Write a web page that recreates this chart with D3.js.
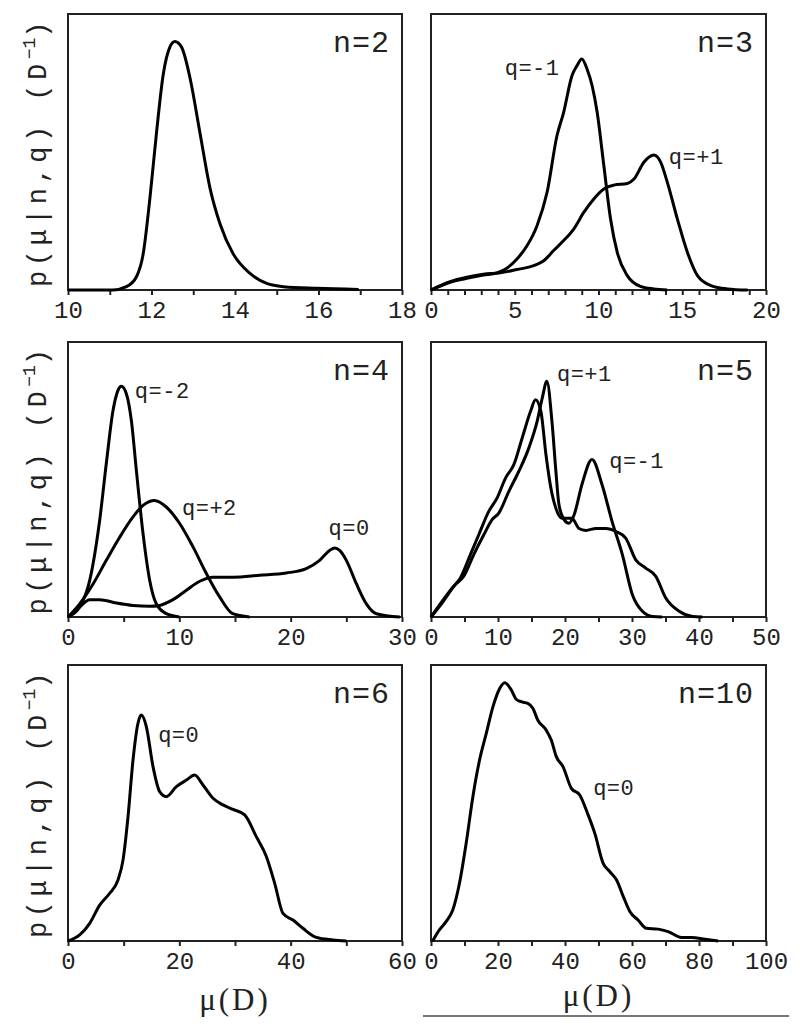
<!DOCTYPE html>
<html><head><meta charset="utf-8">
<script src="https://cdn.jsdelivr.net/npm/d3@7"></script>
<style>
html,body{margin:0;padding:0;background:#fff;}
text{font-family:"Liberation Mono","DejaVu Sans Mono",monospace;fill:#222;}
</style></head>
<body><svg id="chart" width="800" height="1032"></svg>
<script>
// ---------- data (mu in Debye, relative density) ----------
const n2_q = [[10,0],[11.08,0],[11.4,0.012],[11.64,0.048],[11.8,0.13],[11.96,0.33],[12.12,0.57],[12.28,0.78],[12.44,0.88],[12.56,0.9],[12.72,0.88],[12.92,0.77],[13.16,0.57],[13.4,0.37],[13.64,0.24],[13.96,0.13],[14.36,0.06],[14.76,0.024],[15.16,0.012],[15.96,0.006],[16.96,0.002]];

const n3_qm1 = [[0,0],[1.14,0.028],[2.14,0.042],[3.13,0.054],[3.93,0.062],[4.53,0.079],[5.13,0.112],[5.73,0.16],[6.33,0.233],[6.93,0.354],[7.52,0.559],[7.92,0.644],[8.42,0.777],[8.72,0.813],[9.0,0.837],[9.32,0.8],[9.62,0.74],[9.92,0.644],[10.32,0.45],[10.72,0.257],[11.12,0.136],[11.72,0.052],[12.5,0.013],[13.3,0.004],[14.1,0]];
const n3_qp1 = [[0,0],[1.14,0.03],[2.14,0.046],[3.13,0.057],[4.13,0.062],[5.13,0.074],[6.13,0.088],[6.73,0.106],[7.32,0.143],[7.92,0.179],[8.52,0.221],[9.12,0.281],[9.72,0.33],[10.32,0.366],[10.92,0.38],[11.72,0.386],[12.12,0.402],[12.71,0.463],[13.31,0.489],[13.71,0.463],[14.11,0.39],[14.71,0.257],[15.31,0.136],[15.91,0.052],[16.71,0.016],[17.7,0.004],[18.9,0]];

const n4_qm2 = [[0,0],[1.05,0.036],[1.95,0.133],[2.84,0.35],[3.44,0.558],[4.04,0.75],[4.49,0.824],[4.79,0.839],[5.24,0.812],[5.69,0.715],[6.14,0.533],[6.74,0.303],[7.34,0.133],[7.93,0.048],[8.83,0.012],[10,0]];
const n4_qp2 = [[0,0],[1.05,0.048],[2.25,0.12],[3.44,0.206],[4.64,0.29],[5.84,0.364],[6.74,0.406],[7.78,0.424],[8.83,0.4],[10.03,0.34],[11.23,0.255],[12.43,0.158],[13.62,0.073],[14.8,0.012],[16.3,0]];
const n4_q0 = [[0,0],[1.05,0.036],[1.95,0.063],[2.84,0.063],[4.34,0.051],[5.84,0.042],[7.34,0.039],[8.23,0.042],[9.43,0.063],[10.63,0.097],[11.83,0.13],[13.02,0.145],[14.82,0.145],[17.2,0.152],[19.6,0.16],[21.4,0.176],[22.6,0.206],[23.5,0.242],[23.95,0.251],[24.4,0.242],[25,0.206],[25.9,0.121],[26.8,0.048],[27.7,0.012],[29.8,0]];

const n5_a = [[0,0],[1.65,0.057],[3.14,0.105],[4.39,0.142],[5.88,0.227],[7.13,0.299],[8.62,0.384],[9.87,0.433],[11.12,0.505],[12.36,0.554],[13.61,0.651],[14.86,0.748],[15.6,0.79],[16.4,0.748],[17.15,0.592],[17.9,0.468],[18.64,0.395],[19.54,0.359],[21.04,0.359],[22.08,0.322],[23.13,0.315],[24.63,0.322],[26.12,0.322],[27.6,0.311],[29.06,0.287],[30.56,0.208],[32.05,0.178],[33.55,0.148],[35.04,0.069],[37.04,0.021],[39.03,0.002],[40.5,0]];
const n5_b = [[0,0],[1.65,0.051],[3.64,0.118],[4.89,0.148],[6.38,0.227],[7.88,0.299],[9.12,0.354],[10.12,0.378],[11.62,0.457],[13.11,0.53],[14.61,0.615],[15.85,0.712],[16.6,0.796],[17.3,0.857],[18.05,0.712],[18.64,0.53],[19.09,0.41],[19.84,0.355],[20.59,0.341],[21.34,0.37],[22.53,0.482],[24.03,0.573],[25.52,0.482],[27.02,0.348],[28.56,0.227],[30.06,0.081],[31.55,0.021],[33.05,0.002],[34.5,0]];

const n6_q0 = [[0,0],[2.1,0.022],[3.9,0.064],[5.69,0.13],[7.49,0.173],[8.98,0.221],[9.88,0.293],[10.78,0.45],[11.68,0.656],[12.57,0.789],[13.17,0.819],[14.07,0.777],[15.27,0.632],[16.47,0.541],[17.66,0.523],[19.46,0.559],[21.26,0.583],[22.75,0.601],[24.25,0.565],[26.05,0.517],[27.84,0.493],[29.64,0.477],[31.74,0.457],[33.83,0.378],[35.63,0.306],[37.13,0.209],[38.62,0.1],[40.42,0.076],[42.2,0.046],[44.6,0.013],[47.6,0.004],[50,0]];

const n10_q0 = [[0.5,0],[2.5,0.04],[4.5,0.07],[6.5,0.112],[8.5,0.209],[10.5,0.354],[12.5,0.523],[14.5,0.656],[16.5,0.752],[18.5,0.849],[20.5,0.915],[22,0.936],[24,0.909],[25.4,0.876],[26.9,0.867],[28.9,0.861],[30.4,0.843],[31.9,0.8],[34.4,0.764],[35.9,0.728],[37.4,0.668],[39.4,0.632],[41.9,0.553],[44.4,0.529],[46.9,0.457],[48.9,0.39],[51.4,0.281],[53.4,0.251],[55.4,0.221],[57.4,0.161],[59.4,0.106],[61.8,0.076],[64.3,0.046],[67.8,0.043],[70.8,0.034],[74.8,0.013],[77.8,0.013],[81.8,0.006],[85.7,0]];

// axis domains, tick steps and label steps
const panelTitles = ["n=2","n=3","n=4","n=5","n=6","n=10"];
const xDomains = [[10,18],[0,20],[0,30],[0,50],[0,60],[0,100]];
const tickSteps = [1,1,5,5,10,10];
const labelSteps = [2,5,10,10,20,20];
const seriesByPanel = [[n2_q],[n3_qm1,n3_qp1],[n4_qm2,n4_qp2,n4_q0],[n5_a,n5_b],[n6_q0],[n10_q0]];
// curve annotations: [text, mu, density]
const annotations = [
  [],
  [["q=-1",4.4,0.78],["q=+1",14.2,0.457]],
  [["q=-2",6.0,0.796],["q=+2",10.24,0.37],["q=0",23.4,0.298]],
  [["q=+1",18.8,0.858],["q=-1",26.6,0.542]],
  [["q=0",16.2,0.72]],
  [["q=0",48.4,0.53]]
];
const yLabel = "p(\u03bc|n,q) (D";
const xLabel = "\u03bc(D)";

// ---------- layout ----------
const colX = [[68,402],[431,766]];
const rowY = [[14,290],[342,617],[665,941]];

const svg = d3.select("#chart");
svg.append("rect").attr("width",800).attr("height",1032).attr("fill","#fff");

panelTitles.forEach((title,i)=>{
  const col = i%2, row = Math.floor(i/2);
  const [x0,x1] = colX[col], [y0,y1] = rowY[row];
  const x = d3.scaleLinear().domain(xDomains[i]).range([x0,x1]);
  const y = d3.scaleLinear().domain([0,1]).range([y1,y0]);
  const g = svg.append("g");

  const [d0,d1] = xDomains[i];
  const ticks = d3.range(d0, d1+1e-9, tickSteps[i]);
  const ax = g.append("g").attr("transform",`translate(0,${y1})`)
    .call(d3.axisBottom(x).tickValues(ticks).tickSize(5).tickPadding(6)
      .tickFormat(v => (Math.abs(((v-d0)/labelSteps[i]) - Math.round((v-d0)/labelSteps[i]))<1e-6) ? d3.format("d")(v) : ""));
  ax.select(".domain").remove();
  ax.selectAll(".tick line").attr("stroke","#222").attr("stroke-width",2);
  ax.selectAll(".tick text").style("font-size","24px").attr("fill","#222");

  g.append("rect").attr("x",x0).attr("y",y0).attr("width",x1-x0).attr("height",y1-y0)
    .attr("fill","none").attr("stroke","#222").attr("stroke-width",2);

  const line = d3.line().x(d=>x(d[0])).y(d=>y(d[1])).curve(d3.curveMonotoneX);
  seriesByPanel[i].forEach(s=>{
    g.append("path").datum(s).attr("d",line).attr("fill","none")
      .attr("stroke","#000").attr("stroke-width",3).attr("stroke-linejoin","round");
  });

  g.append("text").attr("x",x1-12).attr("y",y0+38).attr("text-anchor","end")
    .style("font-size","30px").style("letter-spacing","1px").text(title);

  annotations[i].forEach(a=>{
    g.append("text").attr("x",x(a[1])).attr("y",y(a[2]))
      .style("font-size","22px").style("letter-spacing","0.5px").text(a[0]);
  });

  if(col===0){
    const cy = (y0+y1)/2;
    const t = svg.append("text").attr("transform",`translate(46,${cy}) rotate(-90)`)
      .attr("text-anchor","middle").style("font-size","27px").style("letter-spacing","4.5px");
    t.append("tspan").text(yLabel);
    t.append("tspan").attr("dy",-11).style("font-size","18px").style("letter-spacing","0px").text("\u22121");
    t.append("tspan").attr("dy",11).text(")");
  }
  if(row===2){
    svg.append("text").attr("x",(x0+x1)/2).attr("y",col===0?1010:1006).attr("text-anchor","middle")
      .style("font-size","31px").style("font-family","'Liberation Serif','DejaVu Serif',serif").style("letter-spacing","3px")
      .text(xLabel);
  }
});
svg.append("line").attr("x1",423).attr("x2",789).attr("y1",1016).attr("y2",1016)
  .attr("stroke","#777").attr("stroke-width",2);
</script></body></html>
